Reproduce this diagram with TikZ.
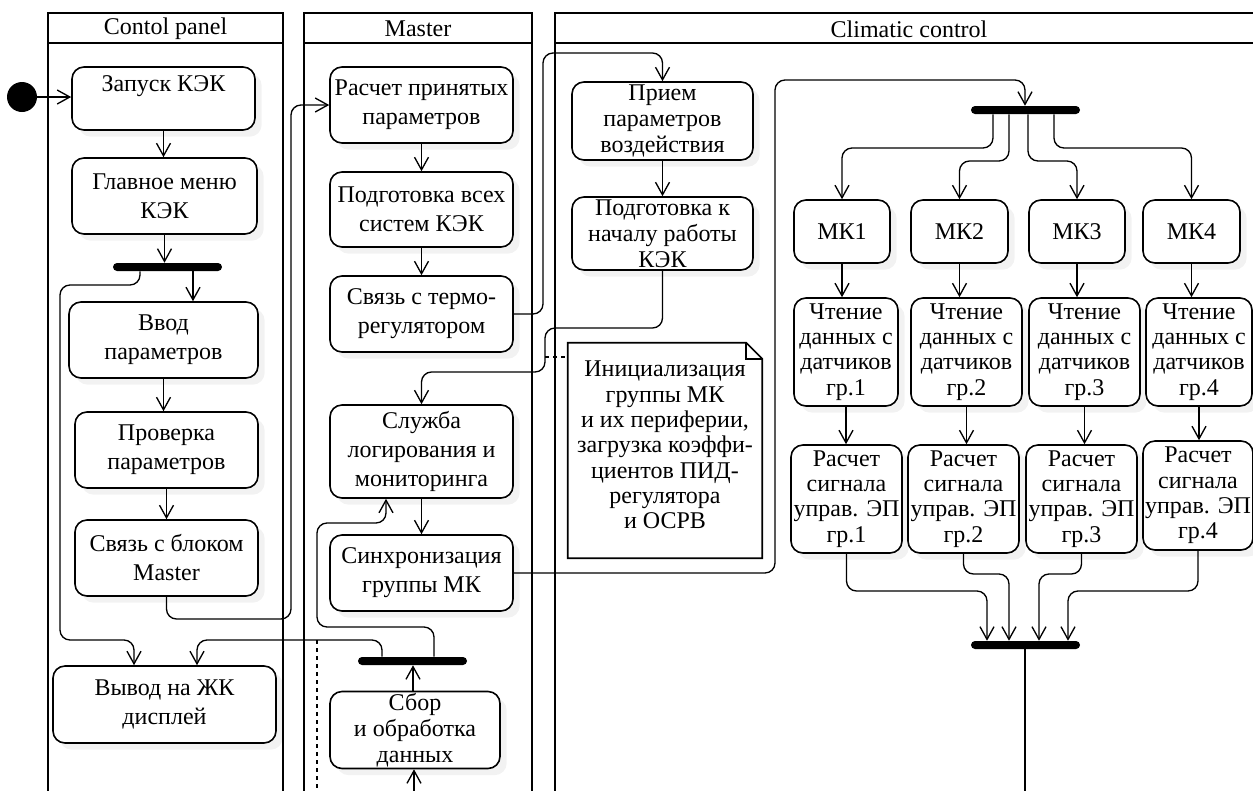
\documentclass[tikz,border=0pt]{standalone}
\usepackage{fontspec}
\setmainfont{Liberation Serif}
\usetikzlibrary{arrows.meta,shadows,calc}
\begin{document}
\begin{tikzpicture}[x=0.75pt,y=-0.75pt,
  font=\fontsize{18}{21.75}\selectfont,
  act/.style={draw, line width=1.2pt, rounded corners=9pt, inner sep=0pt, align=center, fill=white,
    drop shadow={shadow xshift=5pt,shadow yshift=-5pt,opacity=0.05,fill=black}},
  sz/.style 2 args={minimum width=#1, minimum height=#2},
  tight/.style={font=\fontsize{18}{19}\selectfont},
  mid/.style={font=\fontsize{18}{19.5}\selectfont},
  flow/.style={draw, line width=1pt, rounded corners=7.5pt, -{Straight Barb[length=9.5pt,width=10.5pt,line width=1pt]}},
  plain/.style={draw, line width=1pt, rounded corners=7.5pt},
  lane/.style={line width=2.2pt},
  lanetitle/.style={inner sep=0pt},
  barnode/.style={fill=black, rounded corners=3pt, inner sep=0pt, minimum height=6pt, minimum width=81.75pt},
]
\useasboundingbox (0,0) rectangle (1253,790);

% swimlanes
\draw[lane] (48,800) -- (48,13) -- (283,13) -- (283,800);
\draw[lane] (48,43) -- (283,43);
\node[lanetitle] (t1) at (165.5,29) {Contol panel};
\draw[lane] (304,800) -- (304,13) -- (532,13) -- (532,800);
\draw[lane] (304,43) -- (532,43);
\node[lanetitle] (t2) at (418,29) {Master};
\draw[lane] (555,800) -- (555,13) -- (1270,13);
\draw[lane] (555,43) -- (1270,43);
\node[lanetitle] (t3) at (909,29) {Climatic control};

% Control panel
\node[circle, fill=black, minimum size=22.5pt, inner sep=0pt] (start) at (22,97) {};
\node[act, sz={137.25pt}{47.25pt}] (a1) at (163.5,98.5) {Запуск КЭК\\ \mbox{}};
\node[act, sz={138.75pt}{57pt}] (a2) at (164.5,196) {Главное меню\\КЭК};
\node[barnode] (bar1) at (167.5,267) {};
\node[act, sz={141.75pt}{57pt}] (a3) at (163.5,340) {Ввод\\параметров};
\node[act, sz={137.25pt}{57pt}] (a4) at (166.5,450) {Проверка\\параметров};
\node[act, sz={137.25pt}{57pt}] (a5) at (166.5,558) {Связь с блоком\\Master};
\node[act, sz={167.25pt}{57.75pt}] (a6) at (164.5,704.5) {Вывод на ЖК\\дисплей};

% Master
\node[act, sz={137.25pt}{57pt}] (b1) at (421.5,105) {Расчет принятых\\параметров};
\node[act, sz={137.25pt}{56.25pt}] (b2) at (421.5,209.5) {Подготовка всех\\систем КЭК};
\node[act, sz={137.25pt}{57pt}] (b3) at (421.5,314) {Связь с термо-\\регулятором};
\node[act, sz={137.25pt}{69.75pt}] (b4) at (421.5,451.5) {Служба\\логирования и\\мониторинга};
\node[act, sz={137.25pt}{57pt}] (b5) at (421.5,573) {Синхронизация\\группы МК};
\node[barnode] (bar2) at (412.5,661) {};
\node[act, mid, sz={127.5pt}{57.75pt}] (b6) at (415,730) {Сбор\\и обработка\\данных};

% Climatic control
\node[act, mid, sz={135.75pt}{58.5pt}] (c1) at (662.5,121) {Прием\\параметров\\воздействия};
\node[act, mid, sz={135.75pt}{54.75pt}] (c2) at (662.5,233.5) {Подготовка к\\началу работы\\КЭК};
\node[inner sep=0pt, sz={145.5pt}{161.25pt}] (note) at (665,450.5) {};
\draw[line width=1.2pt, fill=white] (note.south west) -- (note.north west) -- ([xshift=-12pt]note.north east)
  -- ([yshift=-12pt]note.north east) -- (note.south east) -- cycle;
\draw[line width=1.2pt] ([xshift=-12pt]note.north east) |- ([yshift=-12pt]note.north east);
\node[align=center, tight, inner sep=0pt] (notetext) at (665,445) {Инициализация\\группы МК\\и их периферии,\\загрузка коэффи-\\циентов ПИД-\\регулятора\\и ОСРВ};

\node[barnode] (bar3) at (1025.5,110) {};
\node[act, sz={72pt}{47.25pt}] (m1) at (842,231.5) {МК1};
\node[act, sz={72.75pt}{47.25pt}] (m2) at (959.5,231.5) {МК2};
\node[act, sz={72pt}{47.25pt}] (m3) at (1077,231.5) {МК3};
\node[act, sz={72.75pt}{47.25pt}] (m4) at (1191.5,231.5) {МК4};
\node[act, tight, sz={78pt}{81pt}] (r1) at (846,352) {Чтение\\данных с\\датчиков\\гр.1};
\node[act, tight, sz={83.25pt}{81pt}] (r2) at (966.5,352) {Чтение\\данных с\\датчиков\\гр.2};
\node[act, tight, sz={83.25pt}{81pt}] (r3) at (1084.5,352) {Чтение\\данных с\\датчиков\\гр.3};
\node[act, tight, sz={79.5pt}{81pt}] (r4) at (1199,352) {Чтение\\данных с\\датчиков\\гр.4};
\node[act, tight, sz={83.25pt}{81pt}] (p1) at (846.5,499) {Расчет\\сигнала\\управ. ЭП\\гр.1};
\node[act, tight, sz={83.25pt}{81pt}] (p2) at (963.5,499) {Расчет\\сигнала\\управ. ЭП\\гр.2};
\node[act, tight, sz={83.25pt}{81pt}] (p3) at (1081.5,499) {Расчет\\сигнала\\управ. ЭП\\гр.3};
\node[act, tight, sz={82.5pt}{81.75pt}] (p4) at (1198,495.5) {Расчет\\сигнала\\управ. ЭП\\гр.4};
\node[barnode] (bar4) at (1025.5,645) {};

% free ends
\coordinate (bin) at (414,800);
\coordinate (cout) at (1025,800);
\coordinate (dn) at (545,357);
\coordinate (dv) at (317,640);
\coordinate (dvend) at (317,800);

% connectors: control panel
\draw[flow] (start.east) -- (start.east -| a1.west);
\draw[flow] (a1.south) -- (a1.south |- a2.north);
\draw[flow] (a2.south) -- (a2.south |- bar1.north);
\draw[flow] (193,0 |- bar1.south) -- (193,0 |- a3.north);
\draw[flow] (140,0 |- bar1.south) |- (60,285) |- (134,640) -- (134,0 |- a6.north);
\draw[flow] (a3.south) -- (a3.south |- a4.north);
\draw[flow] (a4.south) -- (a4.south |- a5.north);
\draw[flow] (a5.south) |- (291,619) |- (b1.west);

% connectors: master
\draw[flow] (b1.south) -- (b1.south |- b2.north);
\draw[flow] (b2.south) -- (b2.south |- b3.north);
\draw[flow] (b3.east) -| (543,53) -| (c1.north);
\draw[flow] (c1.south) -- (c1.south |- c2.north);
\draw[flow] (c2.south) |- (545,328) -- (545,372) -| (b4.north);
\draw[line width=1pt, dashed] (dn) -- (dn -| note.west);
\draw[flow] (b4.south) -- (b4.south |- b5.north);
\draw[flow] (b5.east) -| (775,80) -| (1025,0 |- bar3.north);
\draw[flow] (382,0 |- bar2.north) |- (197,640) -- (197,0 |- a6.north);
\draw[flow] (434,0 |- bar2.north) |- (317,627) |- (386,523) -- (386,0 |- b4.south);
\draw[flow] (413,0 |- b6.north) -- (413,0 |- bar2.south);
\draw[flow] (bin) -- (bin |- b6.south);
\draw[line width=1pt, dashed] (dv) -- (dvend);

% connectors: climatic
\draw[flow] (993,0 |- bar3.south) |- (m1.north |- 0,148) -- (m1.north);
\draw[flow] (1009,0 |- bar3.south) |- (m2.north |- 0,161) -- (m2.north);
\draw[flow] (1028,0 |- bar3.south) |- (m3.north |- 0,161) -- (m3.north);
\draw[flow] (1054,0 |- bar3.south) |- (m4.north |- 0,148) -- (m4.north);
\draw[flow] (m1.south) -- (m1.south |- r1.north);
\draw[flow] (m2.south) -- (m2.south |- r2.north);
\draw[flow] (m3.south) -- (m3.south |- r3.north);
\draw[flow] (m4.south) -- (m4.south |- r4.north);
\draw[flow] (r1.south) -- (r1.south |- p1.north);
\draw[flow] (r2.south) -- (r2.south |- p2.north);
\draw[flow] (r3.south) -- (r3.south |- p3.north);
\draw[flow] (r4.south) -- (r4.south |- p4.north);
\draw[flow] (p1.south) |- (987,591) -- (987,0 |- bar4.north);
\draw[flow] (p2.south) |- (1009,574) -- (1009,0 |- bar4.north);
\draw[flow] (p3.south) |- (1039,574) -- (1039,0 |- bar4.north);
\draw[flow] (p4.south) |- (1068,591) -- (1068,0 |- bar4.north);
\draw[plain] (1025,0 |- bar4.south) -- (cout);
\end{tikzpicture}
\end{document}
